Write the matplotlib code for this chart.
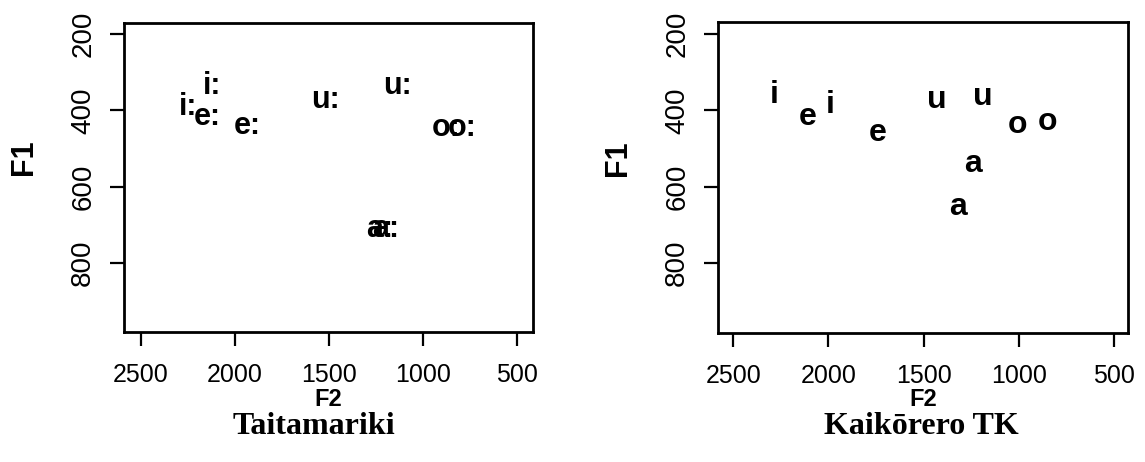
import matplotlib
matplotlib.use("Agg")
import matplotlib.pyplot as plt

# Left panel: Taitamariki (long vowels)
t_labels = ["i:", "i:", "e:", "e:", "u:", "u:", "o:", "o:", "a:", "a:"]
t_f2 = [2118, 2250, 2146, 1932, 1516, 1135, 875, 790, 1231, 1199]
t_f1 = [335, 392, 418, 442, 372, 335, 445, 445, 712, 712]

# Right panel: Kaikorero TK (short vowels)
k_labels = ["i", "i", "e", "e", "u", "u", "o", "o", "a", "a"]
k_f2 = [2286, 1991, 2109, 1741, 1431, 1190, 1007, 847, 1239, 1319]
k_f1 = [361, 387, 417, 459, 374, 366, 438, 430, 541, 652]

x_ticks = [2500, 2000, 1500, 1000, 500]
y_ticks = [200, 400, 600, 800]

titles = ["Taitamariki", "Kaikōrero TK"]

SANS = "Liberation Sans"
SERIF = "Liberation Serif"
plt.rcParams["font.family"] = [SANS, "DejaVu Sans"]

W, H = 1145, 462
fig = plt.figure(figsize=(W / 100, H / 100), dpi=100)


def px_axes(l, r, t, b):
    return [l / W, 1 - b / H, (r - l) / W, (b - t) / H]


panels = [
    dict(rect=px_axes(124, 533, 23, 332), labels=t_labels, f2=t_f2, f1=t_f1,
         xlim=(2588, 415), ylim=(981, 171), fs=22,
         title_x=314, f1_x=32, f1_y=157),
    dict(rect=px_axes(718, 1128, 22, 333), labels=k_labels, f2=k_f2, f1=k_f1,
         xlim=(2580, 426), ylim=(983, 169), fs=23,
         title_x=921, f1_x=626, f1_y=158),
]

for i, p in enumerate(panels):
    ax = fig.add_axes(p["rect"])
    for lab, x, y in zip(p["labels"], p["f2"], p["f1"]):
        ax.text(x, y, lab, ha="center", va="center", fontsize=p["fs"],
                fontweight="bold", family=SANS, color="black")
    ax.set_xlim(*p["xlim"])
    ax.set_ylim(*p["ylim"])
    ax.set_xticks(x_ticks)
    ax.set_yticks(y_ticks)
    ax.set_xticklabels([str(v) for v in x_ticks])
    ax.set_yticklabels([str(v) for v in y_ticks])
    for s in ax.spines.values():
        s.set_linewidth(2.0)
        s.set_color("black")
    ax.tick_params(axis="both", direction="out", length=10, width=1.6,
                   colors="black")
    ax.tick_params(axis="x", pad=12.5, labelsize=18)
    ax.tick_params(axis="y", pad=10, labelsize=20)
    for t in ax.get_yticklabels():
        t.set_rotation(90)
        t.set_va("center")
        t.set_ha("right")

    l, b, w, h = p["rect"]
    axl, axr = l * W, (l + w) * W
    axt, axb = (1 - b - h) * H, (1 - b) * H

    # F2 x label
    ax.set_xlabel("F2", fontsize=17, fontweight="bold", family=SANS)
    ax.xaxis.label.set_va("baseline")
    ax.xaxis.set_label_coords(0.5, (axb - 406.5) / (axb - axt))

    # F1 y label
    ax.set_ylabel("F1", fontsize=22, fontweight="bold", family=SANS)
    ax.yaxis.label.set_va("baseline")
    ax.yaxis.set_label_coords((p["f1_x"] - axl) / (axr - axl),
                              (axb - p["f1_y"]) / (axb - axt))

    fig.text(p["title_x"] / W, 1 - 434 / H, titles[i], ha="center",
             va="baseline", fontsize=23, fontweight="bold", family=SERIF)

fig.savefig("out.png", dpi=100)
